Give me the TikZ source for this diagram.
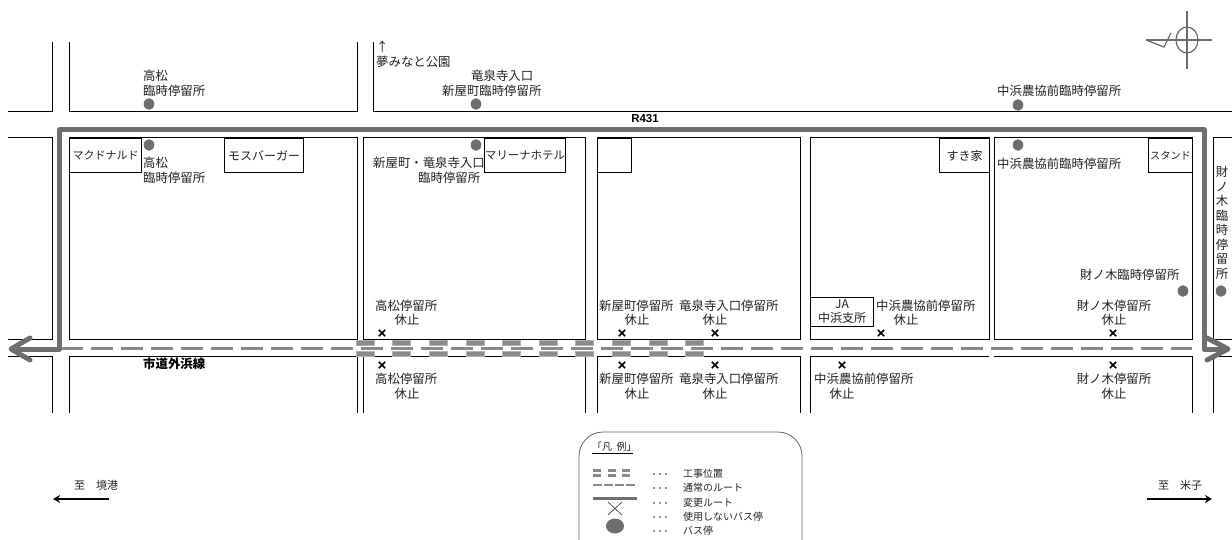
\documentclass[tikz,border=0pt]{standalone}
\usepackage{fontspec}
\usetikzlibrary{arrows.meta}
\setmainfont{Liberation Sans}
\newfontfamily\jp{Noto Sans CJK JP}
\definecolor{route}{HTML}{6E6E6E}
\definecolor{work}{HTML}{8A8A8A}
\definecolor{ink}{HTML}{222222}
\newcommand{\jt}[3]{\node[lab] at (#1,#2) {#3};}
\newcommand{\jc}[3]{\node[clab] at (#1,#2) {#3};}
\tikzset{
  lab/.style={anchor=west,inner sep=0pt,text=ink,font=\fontsize{12.4}{14}\jp},
  clab/.style={anchor=center,inner sep=0pt,text=ink,font=\fontsize{12.4}{14}\jp},
  leg/.style={anchor=west,inner sep=0pt,text=ink,font=\fontsize{10}{12}\jp},
  road/.style={line width=1pt,black},
  shop/.style={road,draw,fill=white,anchor=north west,inner sep=0pt,minimum height=34pt,text=ink},
  stopdot/.style={fill=route,draw=none},
  xmark/.style={line width=1.5pt,black},
  routeline/.style={line width=5pt,route,line cap=round,line join=round},
  normal/.style={line width=3pt,work},
  workbar/.style={fill=work,draw=black!30,line width=.5pt},
}
\begin{document}
\begin{tikzpicture}[x=1pt,y=-1pt]
\useasboundingbox (0,0) rectangle (1232,540);
% top row
\draw[road] (52,42) -- (52,112) -- (8,112);
\draw[road] (69,42) -- (69,112) -- (357,112) -- (357,42);
\draw[road] (373,42) -- (373,112) -- (1232,112);
% middle row
\draw[road] (8,138) -- (52,138) -- (52,339) -- (8,339);
\draw[road] (69,339) -- (69,138) -- (357,138) -- (357,339) -- cycle;
\draw[road] (363,138) rectangle (585,339);
\draw[road] (597,138) rectangle (800,339);
\draw[road] (810,138) rectangle (989,339);
\draw[road] (994,138) rectangle (1192,339);
\draw[road] (1232,138) -- (1213,138) -- (1213,339) -- (1232,339);
% bottom row
\draw[road] (8,356) -- (52,356) -- (52,413);
\draw[road] (69,413) -- (69,356) -- (357,356) -- (357,413);
\draw[road] (363,413) -- (363,356) -- (585,356) -- (585,413);
\draw[road] (597,413) -- (597,356) -- (800,356) -- (800,413);
\draw[road] (810,413) -- (810,356) -- (989,356);
\draw[road] (994,356) -- (1192,356) -- (1192,413);
\draw[road] (1232,356) -- (1213,356) -- (1213,413);
% shops
\node[shop,minimum width=72pt,font=\fontsize{11}{14}\jp] (mc) at (69,138) {マクドナルド};
\node[shop,minimum width=79pt,font=\fontsize{12}{14}\jp] (mos) at (224,138) {モスバーガー};
\node[shop,minimum width=81pt,font=\fontsize{11.4}{14}\jp] (marina) at (484,138) {マリーナホテル};
\node[shop,minimum width=34pt] (blank) at (597,138) {};
\node[shop,minimum width=50pt,font=\fontsize{12}{14}\jp] (sukiya) at (939,138) {すき家};
\node[shop,minimum width=44pt,font=\fontsize{10.2}{14}\jp] (stand) at (1148,138) {スタンド};
\node[shop,minimum width=63pt,minimum height=29pt,align=center,font=\fontsize{12}{14}\jp] (ja) at (810,297) {JA\\中浜支所};
% construction bars
\foreach \i in {0,...,9} {
  \fill[workbar] ({356+36.6*\i},340) rectangle ++(18,5.5);
  \fill[workbar] ({356+36.6*\i},351) rectangle ++(18,5.5);
}
% normal route
\draw[normal,dash pattern=on 22pt off 8pt] (61,348) -- (1192,348);
% changed route
\draw[routeline] (12,349) -- (59,349) -- (59,130) -- (1204,130) -- (1204,349) -- (1226,349);
\draw[routeline] (30,338) -- (11,349) -- (30,360);
\draw[routeline] (1207,338) -- (1228,349) -- (1207,360);
% stops
\foreach \x/\y in {149/104,476/104,1018/105,149/145,476/145,1018/145,1183/291,1221/291}
  \fill[stopdot] (\x,\y) ellipse (5.3pt and 5.8pt);
% closed stops
\foreach \x/\y in {382/333,622/333,715/333,881/333,1113/333,382/365,622/365,715/365,842/365,1113/365} {
  \draw[xmark] (\x-3.2,\y-3.2) -- (\x+3.2,\y+3.2) (\x-3.2,\y+3.2) -- (\x+3.2,\y-3.2);
}
% labels
\jt{143}{76}{高松}
\jt{143}{91}{臨時停留所}
\jt{376}{47}{↑}
\jt{376}{62}{夢みなと公園}
\jt{471}{76}{竜泉寺入口}
\jt{442}{91}{新屋町臨時停留所}
\jt{997}{91}{中浜農協前臨時停留所}
\jt{143}{163}{高松}
\jt{143}{178}{臨時停留所}
\jt{373}{163}{新屋町・竜泉寺入口}
\jt{418}{178}{臨時停留所}
\jt{997}{164}{中浜農協前臨時停留所}
\jt{1080}{275}{財ノ木臨時停留所}
\jc{1222}{172}{財}
\jc{1222}{187}{ノ}
\jc{1222}{201}{木}
\jc{1222}{216}{臨}
\jc{1222}{230}{時}
\jc{1222}{245}{停}
\jc{1222}{259}{留}
\jc{1222}{274}{所}
\jt{375}{306}{高松停留所}
\jc{407}{320}{休止}
\jt{599}{306}{新屋町停留所}
\jc{637}{320}{休止}
\jt{679}{306}{竜泉寺入口停留所}
\jc{715}{320}{休止}
\jc{1114}{306}{財ノ木停留所}
\jc{1114}{320}{休止}
\jt{375}{379}{高松停留所}
\jc{407}{394}{休止}
\jt{599}{379}{新屋町停留所}
\jc{637}{394}{休止}
\jt{679}{379}{竜泉寺入口停留所}
\jc{715}{394}{休止}
\jc{1114}{379}{財ノ木停留所}
\jc{1114}{394}{休止}
\jt{876}{306}{中浜農協前停留所}
\jc{906}{320}{休止}
\jt{814}{379}{中浜農協前停留所}
\jc{842}{394}{休止}
\node[inner sep=0pt,font=\bfseries\fontsize{11.5}{13}\selectfont] (r431) at (645,119) {R431};
\node[anchor=west,inner sep=0pt,font=\bfseries\fontsize{12.4}{14}\jp] (hama) at (143,364) {市道外浜線};
% compass
\draw[route,line width=1.8pt] (1187,11) -- (1187,69);
\draw[route,line width=1.8pt] (1146,40) -- (1212,40);
\draw[route,line width=1.3pt] (1187,40) ellipse (11pt and 13pt);
\draw[route,line width=1.3pt] (1146,40) -- (1164,47) -- (1171,33);
% directions
\node[leg,font=\fontsize{11}{13}\jp] at (74,485) {至};
\node[leg,font=\fontsize{11}{13}\jp] at (96,485) {境港};
\node[leg,font=\fontsize{11}{13}\jp] at (1158,485) {至};
\node[leg,font=\fontsize{11}{13}\jp] at (1180,485) {米子};
\draw[line width=1.6pt,-{Stealth[length=7pt,width=8pt]}] (109,499) -- (53,499);
\draw[line width=1.6pt,-{Stealth[length=7pt,width=8pt]}] (1147,499) -- (1212,499);
% legend
\draw[black!60,line width=.8pt,rounded corners=24pt] (579,541) -- (579,432) -- (802,432) -- (802,541);
\node[anchor=west,inner sep=0pt,text=ink,font=\fontsize{10}{12}\jp] (lt) at (592,447) {「凡\ \ 例」};
\draw[black,line width=.7pt] (592,453) -- (633,453);
\foreach \x in {593,608,622} {
  \fill[work] (\x,469) rectangle ++(8,2.8);
  \fill[work] (\x,474) rectangle ++(8,2.8);
}
\draw[work,line width=2.5pt,dash pattern=on 9pt off 2pt] (593,485) -- (635,485);
\draw[route,line width=3pt] (593,498) -- (637,498);
\draw[black!80,line width=.6pt] (608,502) -- (622,515) (608,515) -- (622,502);
\fill[route] (615,526) ellipse (9pt and 7.5pt);
\foreach \y/\lbl in {474/工事位置,488/通常のルート,503/変更ルート,517/使用しないバス停,531/バス停} {
  \foreach \d in {654,660,666} \fill[ink] (\d,\y) circle (.8pt);
  \node[leg] at (683,\y) {\lbl};
}
\end{tikzpicture}
\end{document}
